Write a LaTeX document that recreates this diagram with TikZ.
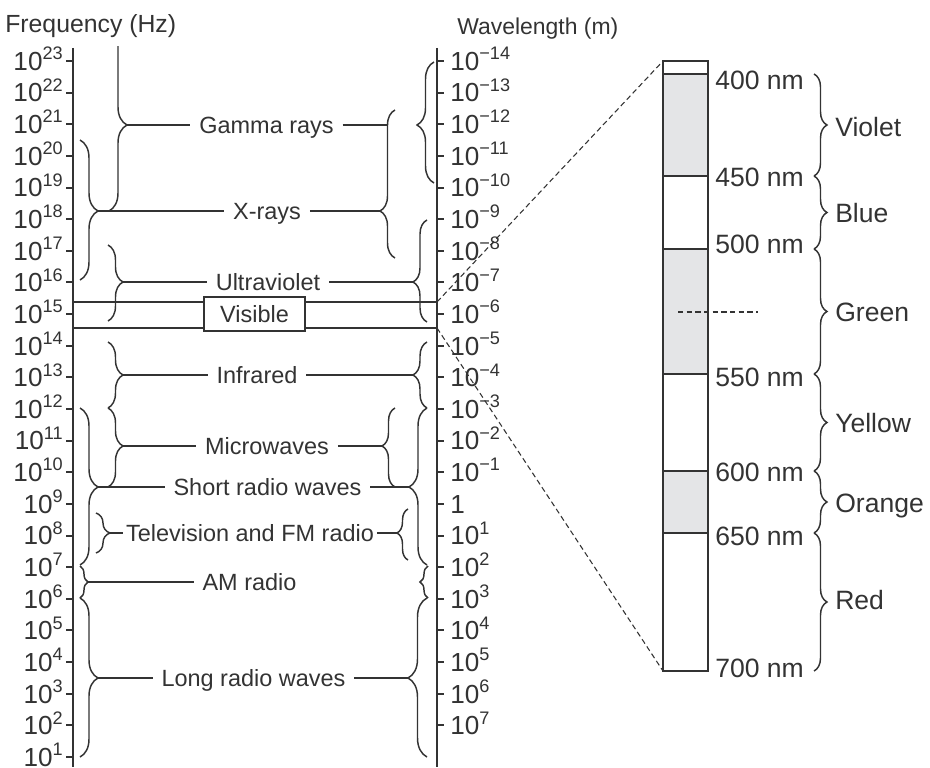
\documentclass[tikz,border=0pt]{standalone}
\usepackage{fontspec}
\setmainfont{Liberation Sans}
\usetikzlibrary{decorations.pathreplacing}
\definecolor{ink}{HTML}{333333}
\definecolor{specgray}{HTML}{E4E5E7}
\newcommand{\fsz}[1]{\fontsize{#1}{#1}\selectfont}
\newcommand{\supx}[1]{\raisebox{8pt}{\fontsize{13.6}{13.6}\selectfont #1}}
\newcommand{\Rbrace}[6]{%
  \pgfmathsetmacro{\basp}{(#5-#3)/(#4-#3)}%
  \pgfmathsetmacro{\bamp}{#6*0.75}%
  \draw[brc, decorate, decoration={brace, amplitude=\bamp pt, aspect=\basp}] (#2,#3) -- (#2,#4);%
  \coordinate (#1) at ({#2+#6},#5);%
}
\newcommand{\Lbrace}[6]{%
  \pgfmathsetmacro{\basp}{(#4-#5)/(#4-#3)}%
  \pgfmathsetmacro{\bamp}{#6*0.75}%
  \draw[brc, decorate, decoration={brace, amplitude=\bamp pt, aspect=\basp}] (#2,#4) -- (#2,#3);%
  \coordinate (#1) at ({#2-#6},#5);%
}
\begin{document}
\begin{tikzpicture}[x=0.75pt,y=-0.75pt,
  axisln/.style={draw=ink, line width=1.5pt},
  brc/.style={draw=ink, line width=1.1pt},
  conn/.style={draw=ink, line width=1.15pt},
  band/.style={draw=ink, line width=1.5pt},
  dsh/.style={draw=ink, line width=0.8pt, dash pattern=on 4pt off 2.5pt},
  lbl/.style={text=ink, font=\fsz{17.6}, text height=12.6pt, text depth=0pt, inner xsep=6.5pt, inner ysep=0pt},
  ticklbl/.style={text=ink, font=\fsz{19.6}, text height=14pt, text depth=0pt, inner sep=0pt},
  nm/.style={text=ink, font=\fsz{19.9}, text height=14.2pt, text depth=0pt, inner sep=0pt, anchor=west},
  hdr/.style={text=ink, text height=12.9pt, text depth=0pt, inner sep=0pt, anchor=west},
]
\useasboundingbox (0,0) rectangle (930,767);

% headers
\node[hdr, font=\fsz{18.6}] (fh) at (5,24) {Frequency (Hz)};
\node[hdr, font=\fsz{17.2}] (wh) at (457,26) {Wavelength (m)};

% axes
\coordinate (fTop) at (73,48); \coordinate (fBot) at (73,767);
\coordinate (wTop) at (437,48); \coordinate (wBot) at (437,767);
\draw[axisln] (fTop) -- (fBot);
\draw[axisln] (wTop) -- (wBot);

% frequency ticks
\foreach \n in {1,...,23}{
  \pgfmathsetmacro{\yy}{61+(23-\n)*31.636}
  \draw[axisln] (66,\yy) -- (73,\yy);
  \node[ticklbl, anchor=east] (f\n) at (63,\yy) {10\supx{\n}};
}
% wavelength ticks
\foreach \k [count=\i] in {-14,...,7}{
  \pgfmathsetmacro{\yy}{61+(\k+14)*31.636}
  \draw[axisln] (437,\yy) -- (444,\yy);
  \node[ticklbl, anchor=west] (w\i) at (450,\yy) {\ifnum\k<0 10\supx{−\the\numexpr-\k\relax}\else\ifnum\k=0 1\else 10\supx{\k}\fi\fi};
}

% visible band
\coordinate (vTL) at (73,302); \coordinate (vTR) at (437,302);
\coordinate (vBL) at (73,328); \coordinate (vBR) at (437,328);
\draw[band] (vTL) -- (vTR);
\draw[band] (vBL) -- (vBR);

% braces, frequency side
\begin{scope}
\clip (0,47) rectangle (930,767);
\Rbrace{gL}{109}{20}{211}{125}{18}
\end{scope}
\Rbrace{xL}{80}{140}{280}{211}{18}
\Rbrace{uL}{108}{245}{321}{282}{15}
\Rbrace{iL}{108}{342}{408}{375}{15}
\Rbrace{mL}{108}{408}{487}{446}{15}
\Rbrace{sL}{80}{408}{565}{487}{18}
\Rbrace{tL}{96}{513}{553}{533}{14}
\Rbrace{aL}{80}{566}{598}{582}{8}
\Rbrace{lL}{80}{598}{757}{678}{18}

% braces, wavelength side
\Lbrace{gR1}{434}{62}{183}{125}{17}
\Lbrace{xR}{395}{110}{258}{211}{15}
\Lbrace{uR}{427}{220}{322}{282}{14}
\Lbrace{iR}{427}{342}{408}{375}{14}
\Lbrace{sR}{427}{408}{565}{487}{18}
\Lbrace{mR}{395}{408}{487}{446}{13}
\Lbrace{tR}{408}{509}{560}{533}{11}
\Lbrace{aR}{428}{566}{598}{582}{8}
\Lbrace{lR}{427}{598}{757}{678}{19}
\coordinate (gRend) at (388,125);

% labels
\node[lbl] (gam) at (266.5,125) {Gamma rays};
\node[lbl] (xr) at (267,211) {X-rays};
\node[lbl] (uv) at (268,282) {Ultraviolet};
\node[draw=ink, line width=1.4pt, fill=white, minimum width=75.75pt, minimum height=25.5pt,
      inner sep=0pt, text=ink, font=\fsz{17.6}, text height=12.6pt, text depth=0pt] (vis) at (254.5,314) {Visible};
\node[lbl] (ir) at (257,375) {Infrared};
\node[lbl] (mw) at (267,446) {Microwaves};
\node[lbl] (sr) at (267.5,487) {Short radio waves};
\node[lbl, inner xsep=2pt] (tv) at (250,533) {Television and FM radio};
\node[lbl] (am) at (249.5,582) {AM radio};
\node[lbl] (lr) at (253.5,678) {Long radio waves};

% connectors
\draw[conn] (gL) -- (gam.west);  \draw[conn] (gam.east) -- (gRend);
\draw[conn] (xL) -- (xr.west);   \draw[conn] (xr.east) -- (xR);
\draw[conn] (uL) -- (uv.west);   \draw[conn] (uv.east) -- (uR);
\draw[conn] (iL) -- (ir.west);   \draw[conn] (ir.east) -- (iR);
\draw[conn] (mL) -- (mw.west);   \draw[conn] (mw.east) -- (mR);
\draw[conn] (sL) -- (sr.west);   \draw[conn] (sr.east) -- (sR);
\draw[conn] (tL) -- (tv.west);   \draw[conn] (tv.east) -- (tR);
\draw[conn] (aL) -- (am.west);
\draw[conn] (lL) -- (lr.west);   \draw[conn] (lr.east) -- (lR);

% spectrum column
\coordinate (sTL) at (663,61); \coordinate (sBR) at (708,671);
\coordinate (sBL) at (663,671);
\fill[specgray] (663,74) rectangle (708,176);
\fill[specgray] (663,249) rectangle (708,374);
\fill[specgray] (663,471) rectangle (708,533);
\foreach \yy in {74,176,249,374,471,533}{
  \draw[draw=ink, line width=1.4pt] (663,\yy) -- (708,\yy);
}
\draw[draw=ink, line width=1.2pt] (sTL) rectangle (sBR);
\coordinate (gd1) at (678,312); \coordinate (gd2) at (758,312);
\draw[dsh] (gd1) -- (gd2);

% zoom lines
\draw[dsh] (vTR) -- (sTL);
\draw[dsh] (vBR) -- (sBL);

% nm labels
\node[nm] (n400) at (715,80) {400 nm};
\node[nm] (n450) at (715,177) {450 nm};
\node[nm] (n500) at (715,244) {500 nm};
\node[nm] (n550) at (715,377) {550 nm};
\node[nm] (n600) at (715,472) {600 nm};
\node[nm] (n650) at (715,536) {650 nm};
\node[nm] (n700) at (715,668) {700 nm};

% colour braces
\Rbrace{cV}{814}{74}{176}{125}{13}
\Rbrace{cB}{814}{176}{249}{212.5}{13}
\Rbrace{cG}{814}{249}{374}{311.5}{13}
\Rbrace{cY}{814}{374}{471}{422.5}{13}
\Rbrace{cO}{814}{471}{533}{502}{13}
\Rbrace{cR}{814}{533}{671}{602}{13}
\node[nm] (lV) at (835,127) {Violet};
\node[nm] (lB) at (835,213) {Blue};
\node[nm] (lG) at (835,312) {Green};
\node[nm] (lY) at (835,423) {Yellow};
\node[nm] (lO) at (835,503) {Orange};
\node[nm] (lRd) at (835,600) {Red};
\end{tikzpicture}
\end{document}
